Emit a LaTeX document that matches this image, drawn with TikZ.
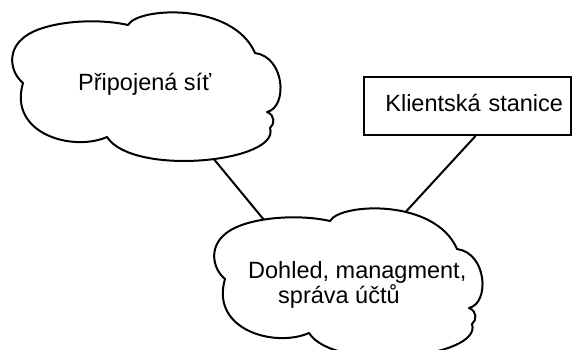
\documentclass[tikz,border=0pt]{standalone}
\usepackage{fontspec}
\setmainfont{Liberation Sans}
\begin{document}
\begin{tikzpicture}[x=1pt,y=-1pt,
  outline/.style={line width=2pt, line join=round, draw=black},
  label/.style={inner sep=0pt, font=\fontsize{23.5}{21.3}\selectfont},
  link/.style={line width=2pt},
  officecloud/.pic={
    \draw[outline, fill=white]
      (115,13) .. controls (125,-5) and (220,-10) .. (242,41) coordinate[pos=0.6] (-ne)
      .. controls (272,45) and (275,95) .. (254,100)
      .. controls (262,103) and (262,112) .. (257,116)
      .. controls (268,150) and (120,165) .. (94,125) coordinate[pos=0.45] (-s)
      .. controls (60,140) and (-5,122) .. (10,71)
      .. controls (-3,60) and (-5,40) .. (8,28)
      .. controls (25,10) and (80,5) .. (115,13) coordinate[pos=0.45] (-nw)
      -- cycle;
  }]
\useasboundingbox (0,0) rectangle (573,349);

% the two clouds
\pic (net) at (13,12) {officecloud};
\pic (mgmt) at (215,208) {officecloud};

% cloud captions (base of a two-line node is its last line)
\node[label, anchor=base west] (nettext) at (78,90) {Připojená síť};
\node[label, anchor=base west, align=left] (mgmttext) at (248,303)
  {Dohled, managment,\\\hspace*{30pt}správa účtů};

% client box
\node[draw, line width=2pt, minimum width=207pt, minimum height=58pt,
      text width=191pt, inner xsep=8pt, align=right,
      text height=17pt, text depth=5.6pt,
      font=\fontsize{23.5}{21.3}\selectfont] (client) at (467.5,106) {Klientská stanice};

% connectors
\draw[link] (net-s) -- (mgmt-nw);
\draw[link] ([xshift=8pt]client.south) -- (mgmt-ne);
\end{tikzpicture}
\end{document}
